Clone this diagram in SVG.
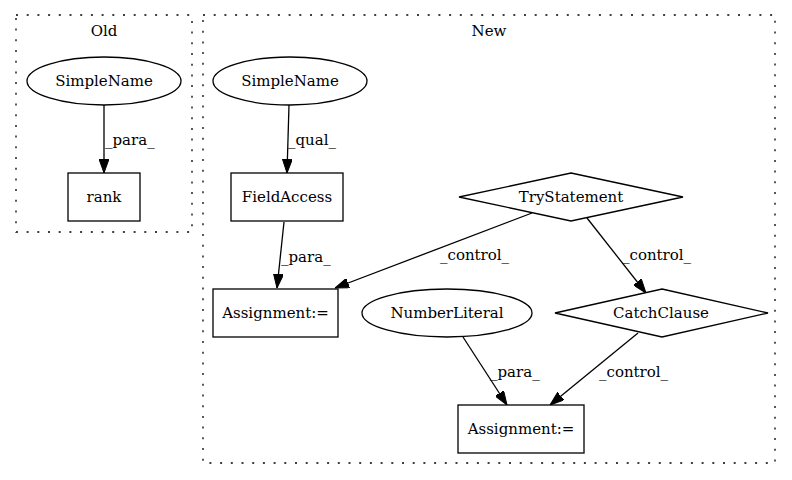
<svg xmlns="http://www.w3.org/2000/svg" width="792" height="480" viewBox="0 0 792 480">
<style>
  text { font-family: "DejaVu Serif", serif; font-size: 15px; fill: #000; }
  .c { text-anchor: middle; }
  .node { fill: #fff; stroke: #000; stroke-width: 1.3; }
  .cluster { fill: none; stroke: #000; stroke-width: 1.3; stroke-dasharray: 2 8.7; }
  .edge { fill: none; stroke: #000; stroke-width: 1.3; marker-end: url(#arrow); }
</style>
<defs>
  <marker id="arrow" markerUnits="userSpaceOnUse" markerWidth="14" markerHeight="10" refX="14" refY="5" orient="auto">
    <path d="M0,0 L14,5 L0,10 z" fill="#000" stroke="#000" stroke-width="1"/>
  </marker>
</defs>
<rect width="792" height="480" fill="#fff"/>
<g id="cluster_old">
  <rect class="cluster" x="16" y="15" width="176" height="217"/>
  <text class="c" x="104" y="36">Old</text>
</g>
<g id="cluster_new">
  <rect class="cluster" x="203" y="15" width="572" height="448"/>
  <text class="c" x="489" y="36">New</text>
</g>
<g id="edges">
  <line class="edge" x1="104" y1="105" x2="104" y2="173"/>
  <text x="105" y="145">_para_</text>
  <line class="edge" x1="289" y1="105" x2="287" y2="173"/>
  <text x="288" y="145">_qual_</text>
  <line class="edge" x1="284" y1="222" x2="277" y2="288"/>
  <text x="281" y="262">_para_</text>
  <line class="edge" x1="532" y1="213" x2="335" y2="288"/>
  <text x="440" y="260">_control_</text>
  <line class="edge" x1="587" y1="218" x2="646" y2="293"/>
  <text x="622" y="260">_control_</text>
  <line class="edge" x1="463" y1="337" x2="507" y2="405"/>
  <text x="490" y="377">_para_</text>
  <line class="edge" x1="638" y1="333" x2="550" y2="405"/>
  <text x="599" y="377">_control_</text>
</g>
<g id="old_simplename">
  <ellipse class="node" cx="104" cy="81" rx="77" ry="24"/>
  <text class="c" x="104" y="86">SimpleName</text>
</g>
<g id="old_rank">
  <rect class="node" x="68" y="173" width="72" height="48"/>
  <text class="c" x="104" y="202">rank</text>
</g>
<g id="new_simplename">
  <ellipse class="node" cx="290" cy="81" rx="77" ry="24"/>
  <text class="c" x="290" y="86">SimpleName</text>
</g>
<g id="fieldaccess">
  <rect class="node" x="231" y="173" width="112" height="48"/>
  <text class="c" x="287" y="202">FieldAccess</text>
</g>
<g id="trystatement">
  <polygon class="node" points="571,173 683,197 571,221 459,197"/>
  <text class="c" x="571" y="202">TryStatement</text>
</g>
<g id="assignment1">
  <rect class="node" x="213" y="289" width="125" height="48"/>
  <text class="c" x="275.5" y="318">Assignment:=</text>
</g>
<g id="numberliteral">
  <ellipse class="node" cx="447" cy="313" rx="85" ry="24"/>
  <text class="c" x="447" y="318">NumberLiteral</text>
</g>
<g id="catchclause">
  <polygon class="node" points="662,289 768,313 662,337 555,313"/>
  <text class="c" x="661" y="318">CatchClause</text>
</g>
<g id="assignment2">
  <rect class="node" x="458" y="405" width="126" height="48"/>
  <text class="c" x="521" y="434">Assignment:=</text>
</g>
</svg>
